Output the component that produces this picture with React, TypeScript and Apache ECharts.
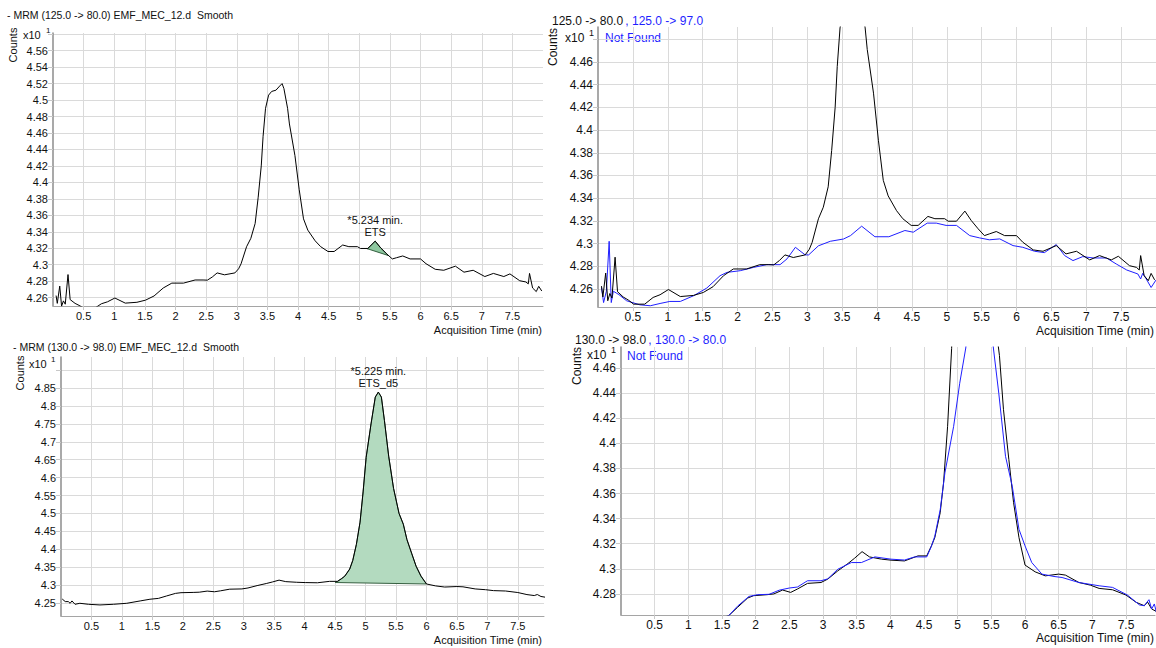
import React, { useEffect, useRef } from "react";
import * as echarts from "echarts";

// ---------- data (Acquisition time in min, counts x10^1) ----------
const mrm125to80: [number, number][] = [
  [0.05, 4.2625], [0.07, 4.253], [0.11, 4.274], [0.14, 4.2496], [0.17, 4.256], [0.2, 4.252], [0.245, 4.288],
  [0.28, 4.2576], [0.36, 4.253], [0.44, 4.25], [0.51, 4.2466], [0.67, 4.2466], [0.79, 4.2525], [0.89, 4.2549],
  [1.01, 4.2595], [1.18, 4.2533], [1.37, 4.2543], [1.51, 4.2569], [1.65, 4.262], [1.8, 4.2717], [1.94, 4.2776],
  [2.13, 4.2776], [2.32, 4.2814], [2.45, 4.2814], [2.52, 4.2812], [2.6, 4.285], [2.68, 4.29], [2.8, 4.2877],
  [2.97, 4.29], [3.03, 4.295], [3.07, 4.301], [3.16, 4.3218], [3.23, 4.332], [3.3, 4.35], [3.35, 4.382],
  [3.4, 4.42], [3.43, 4.456], [3.47, 4.49], [3.52, 4.506], [3.57, 4.5105], [3.64, 4.512], [3.7, 4.517],
  [3.74, 4.52], [3.77, 4.514], [3.83, 4.49], [3.86, 4.471], [3.95, 4.4325], [4.02, 4.391], [4.09, 4.3557],
  [4.16, 4.342], [4.28, 4.329], [4.37, 4.3219], [4.49, 4.316], [4.59, 4.316], [4.73, 4.3239], [4.83, 4.3219],
  [4.97, 4.3219], [5.02, 4.3197], [5.14, 4.3197], [5.26, 4.3286], [5.35, 4.3204], [5.45, 4.313], [5.54, 4.307],
  [5.61, 4.3085], [5.71, 4.3106], [5.83, 4.307], [6.0, 4.307], [6.09, 4.3012], [6.24, 4.2944], [6.38, 4.2932],
  [6.57, 4.2982], [6.71, 4.2909], [6.86, 4.2932], [7.05, 4.2856], [7.19, 4.2894], [7.36, 4.2856], [7.46, 4.2888],
  [7.62, 4.2805], [7.72, 4.279], [7.76, 4.2767], [7.78, 4.2894], [7.83, 4.2717], [7.89, 4.2673], [7.93, 4.2737],
  [7.98, 4.268],
];

const mrm125to97: [number, number][] = [
  [0.05, 4.2613], [0.08, 4.248], [0.12, 4.258], [0.16, 4.302], [0.19, 4.248], [0.22, 4.258], [0.26, 4.2565],
  [0.3, 4.255], [0.41, 4.2496], [0.6, 4.246], [0.75, 4.2452], [0.89, 4.2472], [1.03, 4.249], [1.18, 4.249],
  [1.37, 4.254], [1.56, 4.2608], [1.75, 4.2717], [1.85, 4.2746], [2.04, 4.2761], [2.23, 4.279], [2.42, 4.2814],
  [2.61, 4.2814], [2.71, 4.2865], [2.83, 4.2967], [2.97, 4.29], [3.02, 4.29], [3.16, 4.298], [3.33, 4.302],
  [3.52, 4.304], [3.62, 4.307], [3.78, 4.3153], [3.97, 4.306], [4.17, 4.306], [4.4, 4.3115], [4.52, 4.31],
  [4.72, 4.318], [4.85, 4.318], [4.99, 4.316], [5.14, 4.316], [5.33, 4.307], [5.47, 4.305], [5.61, 4.3033],
  [5.76, 4.3041], [5.95, 4.2982], [6.09, 4.2967], [6.26, 4.2932], [6.4, 4.292], [6.57, 4.2991], [6.69, 4.2894],
  [6.81, 4.285], [6.95, 4.2885], [7.1, 4.2873], [7.29, 4.2873], [7.43, 4.282], [7.58, 4.2767], [7.74, 4.2732],
  [7.78, 4.2688], [7.81, 4.2738], [7.86, 4.2688], [7.93, 4.2613], [8.0, 4.2679],
];

const mrm130to98: [number, number][] = [
  [0.02, 4.261], [0.07, 4.2537], [0.12, 4.2537], [0.15, 4.249], [0.18, 4.2556], [0.23, 4.2462], [0.31, 4.249],
  [0.45, 4.2462], [0.64, 4.2444], [0.86, 4.2462], [1.08, 4.249], [1.3, 4.2556], [1.46, 4.2603], [1.6, 4.2627],
  [1.73, 4.2693], [1.88, 4.2767], [1.97, 4.2786], [2.17, 4.2794], [2.27, 4.28], [2.4, 4.2831], [2.52, 4.2812],
  [2.62, 4.2839], [2.77, 4.2884], [2.97, 4.2891], [3.07, 4.2918], [3.22, 4.2984], [3.37, 4.3042], [3.47, 4.3085],
  [3.58, 4.3137], [3.69, 4.3095], [3.87, 4.3077], [4.01, 4.3069], [4.21, 4.3063], [4.41, 4.3103], [4.54, 4.3103],
  [4.61, 4.3183], [4.66, 4.3249], [4.74, 4.3447], [4.79, 4.3685], [4.85, 4.4136], [4.91, 4.4757], [4.96, 4.56],
  [5.01, 4.6565], [5.09, 4.75], [5.16, 4.825], [5.21, 4.839], [5.26, 4.825], [5.31, 4.76], [5.38, 4.66],
  [5.46, 4.57], [5.55, 4.5], [5.62, 4.47], [5.68, 4.4268], [5.76, 4.387], [5.83, 4.3527], [5.91, 4.3249],
  [6.0, 4.303], [6.15, 4.2976], [6.3, 4.2944], [6.5, 4.2958], [6.6, 4.295], [6.8, 4.2891], [6.97, 4.287],
  [7.1, 4.2844], [7.3, 4.2833], [7.5, 4.2791], [7.65, 4.2733], [7.77, 4.2706], [7.82, 4.2735], [7.88, 4.268],
  [7.97, 4.2655],
];

const mrm130to80: [number, number][] = [
  [0.05, 4.255], [0.5, 4.246], [1.0, 4.249], [1.3, 4.255], [1.6, 4.2627], [1.73, 4.2702], [1.9, 4.278],
  [2.03, 4.2794], [2.2, 4.2797], [2.35, 4.283], [2.5, 4.2847], [2.62, 4.2855], [2.77, 4.2905], [2.97, 4.2905],
  [3.07, 4.292], [3.22, 4.2997], [3.42, 4.305], [3.57, 4.305], [3.77, 4.3095], [4.01, 4.3077], [4.21, 4.307],
  [4.36, 4.3095], [4.54, 4.3095], [4.61, 4.318], [4.66, 4.326], [4.74, 4.347], [4.81, 4.3765], [4.94, 4.4136],
  [5.03, 4.4479], [5.12, 4.476], [5.2, 4.52], [5.32, 4.55], [5.45, 4.52], [5.53, 4.476], [5.61, 4.44],
  [5.71, 4.3897], [5.81, 4.3659], [5.91, 4.3315], [6.0, 4.3183], [6.1, 4.305], [6.25, 4.2958], [6.43, 4.2939],
  [6.55, 4.2931], [6.8, 4.2891], [7.1, 4.2865], [7.3, 4.2852], [7.52, 4.2791], [7.7, 4.2712], [7.77, 4.2706],
  [7.84, 4.2754], [7.88, 4.268], [7.92, 4.272], [7.95, 4.2655], [8.0, 4.269],
];

// integration baselines of the two labelled peaks
const etsBaseline: [number, number][] = [[5.12, 4.3197], [5.48, 4.311]];
const etsD5Baseline: [number, number][] = [[4.5, 4.307], [6.0, 4.303]];
const etsLabel = ["*5.234 min.", "ETS"];
const etsD5Label = ["*5.225 min.", "ETS_d5"];

// ---------- styling ----------
const FONT = '"Liberation Sans", Arial, Helvetica, sans-serif';
const BLUE = "#1f1fff";
const GRID_C = "#dadada";

type Panel = {
  grid: { left: number; top: number; width: number; height: number };
  xMax: number;
  yMin: number;
  yMax: number;
  yStep: number;
  yLabelMax: number;
  font: number;
};

const panels: Panel[] = [
  { grid: { left: 53, top: 33, width: 490, height: 273 }, xMax: 8, yMin: 4.2498, yMax: 4.5815, yStep: 0.02, yLabelMax: 4.57, font: 11 },
  { grid: { left: 598, top: 27, width: 558, height: 280 }, xMax: 8, yMin: 4.2441, yMax: 4.4908, yStep: 0.02, yLabelMax: 4.47, font: 12 },
  { grid: { left: 61, top: 357, width: 483, height: 259 }, xMax: 7.93, yMin: 4.2135, yMax: 4.937, yStep: 0.05, yLabelMax: 4.87, font: 11 },
  { grid: { left: 621, top: 347, width: 534, height: 268 }, xMax: 7.93, yMin: 4.2632, yMax: 4.4768, yStep: 0.02, yLabelMax: 4.47, font: 12 },
];

const fmt = (v: number) => String(parseFloat(v.toFixed(3)));

function apexIn(curve: [number, number][], base: [number, number][]) {
  let best = curve[0];
  for (const p of curve) if (p[0] > base[0][0] && p[0] < base[1][0] && (best[0] <= base[0][0] || p[1] > best[1])) best = p;
  return best;
}

function peakFill(idx: number, curve: [number, number][], base: [number, number][], fill: string) {
  return {
    type: "custom",
    xAxisIndex: idx,
    yAxisIndex: idx,
    coordinateSystem: "cartesian2d",
    data: base,
    clip: true,
    silent: true,
    z: 1,
    renderItem: (params: any, api: any) => {
      if (params.dataIndex !== 0) return null;
      const pts = [base[0], ...curve.filter((p) => p[0] > base[0][0] && p[0] < base[1][0]), base[1]].map((p) =>
        api.coord(p)
      );
      return { type: "polygon", shape: { points: pts }, style: { fill, stroke: "#355f40", lineWidth: 1 } };
    },
  };
}

function lineSeries(idx: number, data: [number, number][], color: string, extra: any = {}) {
  return {
    type: "line",
    xAxisIndex: idx,
    yAxisIndex: idx,
    data,
    showSymbol: false,
    symbol: "none",
    smooth: false,
    clip: true,
    z: 3,
    lineStyle: { color, width: 1 },
    emphasis: { disabled: true },
    ...extra,
  };
}

function annotation(curve: [number, number][], base: [number, number][], lines: string[], font: number) {
  const apex = apexIn(curve, base);
  return {
    symbol: "circle",
    symbolSize: 1,
    silent: true,
    itemStyle: { color: "rgba(0,0,0,0)" },
    label: {
      show: true,
      position: "top",
      distance: 3,
      formatter: lines.join("\n"),
      color: "#111",
      fontSize: font,
      lineHeight: font + 1,
      fontFamily: FONT,
    },
    data: [{ coord: apex }],
  };
}

function txt(x: number, y: number, text: string, size: number, fill = "#111", align = "left", extra: any = {}) {
  return {
    type: "text",
    x,
    y,
    silent: true,
    style: { text, fill, fontSize: size, fontFamily: FONT, align, verticalAlign: "middle" },
    ...extra,
  };
}

function buildOption() {
  const xAxis = panels.map((p, i) => ({
    type: "value",
    gridIndex: i,
    min: 0,
    max: p.xMax,
    minInterval: 0.5,
    maxInterval: 0.5,
    splitNumber: 16,
    axisLine: { show: true, onZero: false, lineStyle: { color: "#a5a5a5", width: 1 } },
    axisTick: { show: true, length: 4, lineStyle: { color: "#c8c8c8" } },
    axisLabel: {
      show: true,
      margin: 4,
      color: "#111",
      fontSize: p.font,
      fontFamily: FONT,
      showMinLabel: false,
      showMaxLabel: false,
      formatter: (v: number) => (Math.abs(v / 0.5 - Math.round(v / 0.5)) > 1e-6 ? "" : fmt(v)),
    },
    splitLine: { show: true, showMinLine: false, showMaxLine: false, lineStyle: { color: GRID_C, width: 1 } },
  }));

  const yAxis = panels.map((p, i) => ({
    type: "value",
    gridIndex: i,
    min: p.yMin,
    max: p.yMax,
    minInterval: p.yStep,
    maxInterval: p.yStep,
    splitNumber: Math.round((p.yMax - p.yMin) / p.yStep),
    axisLine: { show: true, onZero: false, lineStyle: { color: "#8c8c8c", width: 1.5 } },
    axisTick: { show: true, length: 5, lineStyle: { color: "#c8c8c8" } },
    axisLabel: {
      show: true,
      margin: 5,
      color: "#111",
      fontSize: p.font,
      fontFamily: FONT,
      showMinLabel: false,
      showMaxLabel: false,
      formatter: (v: number) =>
        v > p.yLabelMax || Math.abs(v / p.yStep - Math.round(v / p.yStep)) > 1e-6 ? "" : fmt(v),
    },
    splitLine: { show: true, showMinLine: false, showMaxLine: false, lineStyle: { color: GRID_C, width: 1 } },
  }));

  const series: any[] = [
    peakFill(0, mrm125to80, etsBaseline, "#8ec8a0"),
    lineSeries(0, mrm125to80, "#000", { markPoint: annotation(mrm125to80, etsBaseline, etsLabel, 11) }),
    lineSeries(1, mrm125to97, BLUE),
    lineSeries(1, mrm125to80, "#000"),
    peakFill(2, mrm130to98, etsD5Baseline, "#b3dabf"),
    lineSeries(2, mrm130to98, "#000", { markPoint: annotation(mrm130to98, etsD5Baseline, etsD5Label, 11) }),
    lineSeries(3, mrm130to98, "#000"),
    lineSeries(3, mrm130to80, BLUE),
  ];

  const graphic: any[] = [
    // titles
    txt(7, 15, "- MRM (125.0 -> 80.0) EMF_MEC_12.d  Smooth", 10.5),
    txt(552, 21, "125.0 -> 80.0", 12),
    txt(622, 21, " , 125.0 -> 97.0", 12, BLUE),
    txt(13, 347, "- MRM (130.0 -> 98.0) EMF_MEC_12.d  Smooth", 10.5),
    txt(575, 340, "130.0 -> 98.0", 12),
    txt(645, 340, " , 130.0 -> 80.0", 12, BLUE),
    // y-axis titles
    txt(13, 45, "Counts", 11, "#111", "center", { rotation: Math.PI / 2 }),
    txt(553, 47, "Counts", 12, "#111", "center", { rotation: Math.PI / 2 }),
    txt(20, 373, "Counts", 11, "#111", "center", { rotation: Math.PI / 2 }),
    txt(577, 366, "Counts", 12, "#111", "center", { rotation: Math.PI / 2 }),
    // exponent
    txt(23, 35, "x10", 11),
    txt(46, 30, "1", 8),
    txt(565, 38, "x10", 12),
    txt(589, 33, "1", 9),
    txt(29, 364, "x10", 11),
    txt(51, 359, "1", 8),
    txt(587, 355, "x10", 12),
    txt(611, 350, "1", 9),
    // Not found
    txt(605, 38, "Not Found", 12, BLUE),
    txt(627, 356, "Not Found", 12, BLUE),
    // x-axis titles
    txt(542, 330, "Acquisition Time (min)", 11, "#111", "right"),
    txt(1154, 331, "Acquisition Time (min)", 12, "#111", "right"),
    txt(542, 640, "Acquisition Time (min)", 11, "#111", "right"),
    txt(1154, 638, "Acquisition Time (min)", 12, "#111", "right"),
  ];

  return {
    animation: false,
    backgroundColor: "#ffffff",
    textStyle: { fontFamily: FONT },
    grid: panels.map((p) => ({ ...p.grid, containLabel: false })),
    xAxis,
    yAxis,
    series,
    graphic,
  };
}

export default function App() {
  const ref = useRef<HTMLDivElement>(null);
  useEffect(() => {
    if (!ref.current) return;
    const chart = echarts.init(ref.current, undefined, { renderer: "svg" });
    chart.setOption(buildOption() as any);
    return () => chart.dispose();
  }, []);
  return (
    <div
      ref={ref}
      style={{ position: "fixed", left: 0, top: 0, width: 1156, height: 648, background: "#fff" }}
    />
  );
}
